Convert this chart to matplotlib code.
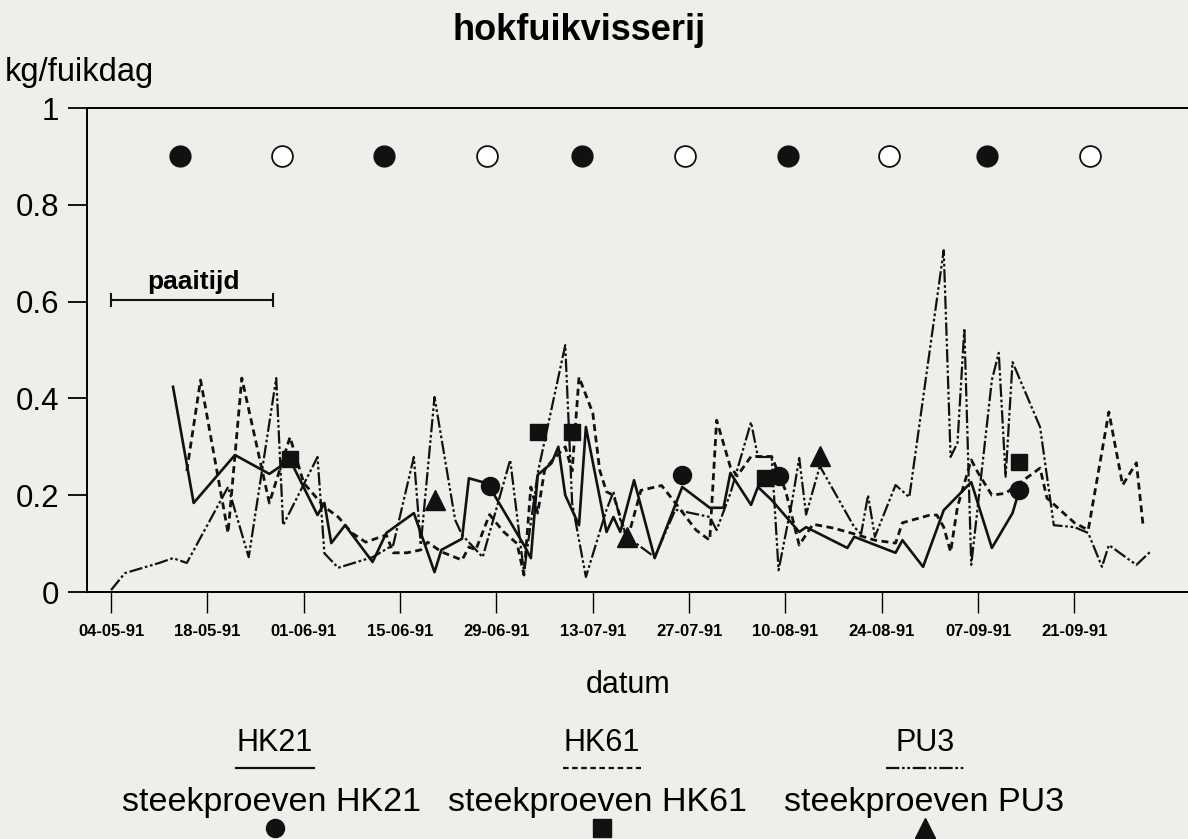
import numpy as np
import matplotlib
matplotlib.use("Agg")
import matplotlib.pyplot as plt
import matplotlib.dates as mdates
from matplotlib.lines import Line2D

plt.rcParams['font.family'] = ['Liberation Sans', 'DejaVu Sans']

# days since 04-05-91, catch in kg/fuikdag
hk21_days = [9, 12, 18, 23, 26, 30, 31, 32, 34, 38, 40, 44, 47, 48, 51, 52, 54, 55,
             60, 61, 62, 64, 65, 66, 68, 69, 72, 73, 74, 76, 79, 83, 87, 89, 90, 93,
             94, 96, 100, 101, 107, 108, 110, 114, 115, 118, 121, 125, 128, 131, 132]
hk21_vals = [0.424, 0.184, 0.283, 0.244, 0.273, 0.159, 0.184, 0.101, 0.138, 0.062,
             0.122, 0.163, 0.041, 0.087, 0.110, 0.235, 0.227, 0.217, 0.097, 0.070,
             0.242, 0.266, 0.300, 0.200, 0.138, 0.341, 0.124, 0.155, 0.124, 0.231,
             0.070, 0.217, 0.174, 0.174, 0.246, 0.180, 0.217, 0.190, 0.124, 0.134,
             0.091, 0.114, 0.103, 0.081, 0.107, 0.052, 0.169, 0.227, 0.091, 0.163, 0.211]

hk61_days = [11, 13, 17, 19, 23, 26, 28, 31, 33, 35, 37, 40, 41, 43, 45, 46, 48, 51,
             52, 53, 55, 57, 59, 60, 61, 62, 63, 64, 66, 67, 68, 70, 71, 72, 73, 74,
             75, 77, 80, 82, 85, 87, 88, 90, 91, 93, 96, 98, 100, 102, 105, 108, 111,
             114, 115, 119, 120, 121, 122, 123, 125, 126, 128, 130, 135, 136, 140,
             142, 145, 147, 149, 150]
hk61_vals = [0.25, 0.438, 0.122, 0.442, 0.184, 0.32, 0.225, 0.176, 0.155, 0.122, 0.103,
             0.118, 0.081, 0.081, 0.087, 0.103, 0.083, 0.066, 0.093, 0.087, 0.16, 0.125,
             0.10, 0.035, 0.217, 0.163, 0.252, 0.27, 0.30, 0.25, 0.444, 0.37, 0.252,
             0.207, 0.20, 0.155, 0.107, 0.21, 0.22, 0.184, 0.128, 0.107, 0.355, 0.258,
             0.24, 0.28, 0.28, 0.21, 0.097, 0.14, 0.132, 0.12, 0.107, 0.101, 0.143,
             0.159, 0.159, 0.134, 0.083, 0.176, 0.273, 0.246, 0.20, 0.204, 0.256,
             0.194, 0.143, 0.128, 0.372, 0.221, 0.267, 0.134]

pu3_days = [0, 2, 7, 9, 11, 17, 20, 24, 25, 30, 31, 33, 38, 41, 44, 45, 47, 50, 51,
            54, 58, 60, 62, 66, 67, 69, 72, 73, 74, 75, 79, 82, 87, 88, 90, 93, 94,
            96, 97, 99, 100, 101, 103, 108, 109, 110, 111, 114, 116, 121, 122, 123,
            124, 125, 128, 129, 130, 131, 135, 137, 140, 142, 144, 145, 149, 151]
pu3_vals = [0.004, 0.039, 0.060, 0.070, 0.060, 0.217, 0.072, 0.442, 0.138, 0.279,
            0.080, 0.050, 0.072, 0.097, 0.279, 0.097, 0.403, 0.149, 0.118, 0.072,
            0.273, 0.040, 0.246, 0.510, 0.184, 0.031, 0.170, 0.207, 0.149, 0.114,
            0.072, 0.170, 0.155, 0.128, 0.204, 0.351, 0.279, 0.279, 0.045, 0.190,
            0.277, 0.160, 0.260, 0.134, 0.120, 0.200, 0.114, 0.221, 0.196, 0.706,
            0.279, 0.308, 0.545, 0.056, 0.438, 0.494, 0.238, 0.475, 0.341, 0.138,
            0.134, 0.122, 0.052, 0.097, 0.056, 0.083]

# steekproeven (sample catches)
s_hk21_days = [55, 83, 97, 132]
s_hk21_vals = [0.219, 0.242, 0.240, 0.211]
s_hk61_days = [26, 62, 67, 95, 132]
s_hk61_vals = [0.275, 0.331, 0.331, 0.236, 0.269]
s_pu3_days = [47, 75, 103]
s_pu3_vals = [0.19, 0.114, 0.281]

# moon phases (new = filled, full = open)
new_moon_days = [10, 39.7, 68.5, 98.4, 127.3]
full_moon_days = [24.9, 54.6, 83.4, 113, 142.3]
moon_level = 0.9

paaitijd_days = [0, 23.5]
paaitijd_level = 0.603

base = np.datetime64('1991-05-04')


def to_dates(days):
    return base + (np.array(days, dtype=float) * 24).astype('timedelta64[h]')


W, H = 1188, 839
bg = '#eeeeeb'
ink = '#111111'
ls_hk61 = (0, (2.5, 1.6))
ls_pu3 = (0, (6, 1.2, 1.2, 1.2, 1.2, 1.2))

fig = plt.figure(figsize=(W / 100, H / 100), dpi=100, facecolor=bg)
ax = fig.add_axes([87 / W, 1 - 592 / H, 1 - 87 / W, (592 - 108) / H])
ax.set_facecolor(bg)

ax.plot(to_dates(hk21_days), hk21_vals, color=ink, lw=1.9, ls='-')
ax.plot(to_dates(hk61_days), hk61_vals, color=ink, lw=2.0, ls=ls_hk61)
ax.plot(to_dates(pu3_days), pu3_vals, color=ink, lw=1.6, ls=ls_pu3)

ax.plot(to_dates(s_hk21_days), s_hk21_vals, 'o', color=ink, ms=13, ls='none')
ax.plot(to_dates(s_hk61_days), s_hk61_vals, 's', color=ink, ms=12, ls='none')
ax.plot(to_dates(s_pu3_days), s_pu3_vals, '^', color=ink, ms=15, ls='none')

ax.plot(to_dates(new_moon_days), [moon_level] * len(new_moon_days), 'o',
        color=ink, ms=15, ls='none')
ax.plot(to_dates(full_moon_days), [moon_level] * len(full_moon_days), 'o',
        mfc='white', mec=ink, mew=1.3, ms=15, ls='none')

# paaitijd bar
pd_dates = to_dates(paaitijd_days)
ax.plot(pd_dates, [paaitijd_level] * 2, color=ink, lw=1.5)
ax.plot(pd_dates, [paaitijd_level] * 2, '|', color=ink, ms=10, mew=1.5)
ax.text(to_dates([12])[0], paaitijd_level + 0.013, 'paaitijd', ha='center', va='bottom',
        fontsize=19, fontweight='bold')

ax.set_xlim(to_dates([-3.5])[0], to_dates([156.5])[0])
ax.set_ylim(0, 1)
ax.set_yticks([0, 0.2, 0.4, 0.6, 0.8, 1.0])
ax.set_yticklabels(['0', '0.2', '0.4', '0.6', '0.8', '1'], fontsize=22.5)
ax.set_xticks(to_dates(np.arange(0, 141, 14)))
ax.xaxis.set_major_formatter(mdates.DateFormatter('%d-%m-%y'))
for lab in ax.get_xticklabels():
    lab.set_fontsize(12)
    lab.set_fontweight('bold')
ax.tick_params(axis='y', length=14, width=1.3, pad=6)
ax.tick_params(axis='x', length=15, width=1.0, pad=8)
ax.spines['right'].set_visible(False)
for s in ['left', 'top', 'bottom']:
    ax.spines[s].set_linewidth(1.4)

# texts
fig.text(579 / W, 1 - 30 / H, 'hokfuikvisserij', ha='center', va='center',
         fontsize=26, fontweight='bold')
fig.text(5 / W, 1 - 72 / H, 'kg/fuikdag', ha='left', va='center', fontsize=23.5)
fig.text(628 / W, 1 - 685 / H, 'datum', ha='center', va='center', fontsize=22)

# legend below the chart
legend_items = [
    ('HK21', 275, '-', 'o', 'steekproeven HK21', 271),
    ('HK61', 602, ls_hk61, 's', 'steekproeven HK61', 597),
    ('PU3', 925, ls_pu3, '^', 'steekproeven PU3', 924),
]
for name, cx, ls, mk, stext, scx in legend_items:
    fig.text(cx / W, 1 - 743 / H, name, ha='center', va='center', fontsize=22)
    fig.add_artist(Line2D([(cx - 39) / W, (cx + 39) / W], [1 - 768 / H] * 2,
                          transform=fig.transFigure, color=ink, lw=1.6, ls=ls))
    fig.text(scx / W, 1 - 803 / H, stext, ha='center', va='center', fontsize=24.5)
    fig.add_artist(Line2D([cx / W], [1 - 828 / H], transform=fig.transFigure,
                          marker=mk, color=ink, ms=13 if mk != '^' else 15,
                          ls='none'))

fig.savefig('out.png', dpi=100, facecolor=bg)
